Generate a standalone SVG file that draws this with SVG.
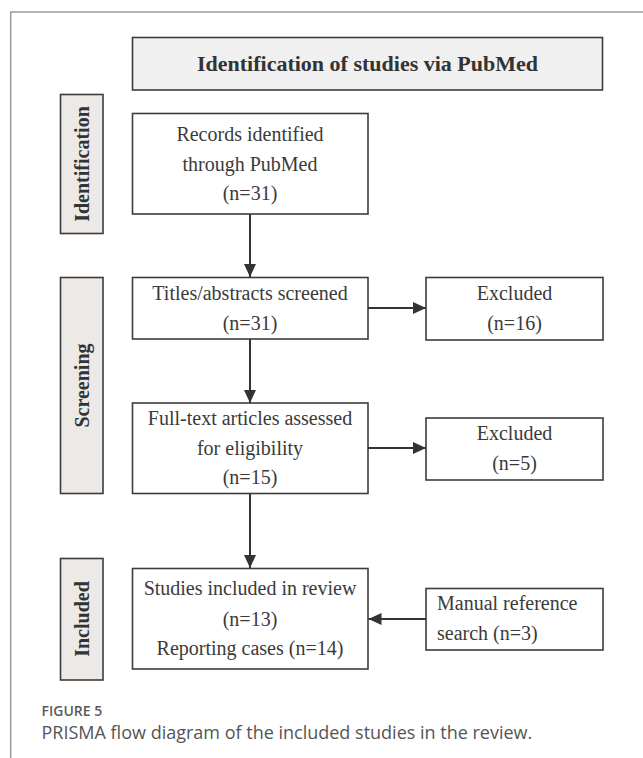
<svg xmlns="http://www.w3.org/2000/svg" width="643" height="758" viewBox="0 0 643 758">
<defs>
<style>
.box{fill:#ffffff;stroke:#3c3c3c;stroke-width:1.6}
.side{fill:#ece9e7;stroke:#3c3c3c;stroke-width:1.6}
.title{fill:#f0f0f0;stroke:#3c3c3c;stroke-width:1.6}
.t{font-family:"Liberation Serif","Times New Roman",serif;font-size:20px;fill:#3a3a3a;text-anchor:middle}
.tl{font-family:"Liberation Serif","Times New Roman",serif;font-size:20px;fill:#3a3a3a}
.tb{font-family:"Liberation Serif","Times New Roman",serif;font-size:20px;font-weight:bold;fill:#333;text-anchor:middle}
.conn{stroke:#333;stroke-width:2;fill:none;marker-end:url(#ah)}
.frame{stroke:#9a9aa2;stroke-width:1.5;fill:none}
</style>
<marker id="ah" markerUnits="userSpaceOnUse" markerWidth="14" markerHeight="12" refX="13" refY="6" orient="auto">
<path d="M0,0 L13,6 L0,12 Z" fill="#333"/>
</marker>
</defs>
<rect width="643" height="758" fill="#ffffff"/>
<path class="frame" d="M10.7,758 V12 H643"/>

<g id="title">
<rect class="title" x="132.5" y="37.5" width="470" height="52.5"/>
<text class="tb" x="367.5" y="71" style="font-size:22px">Identification of studies via PubMed</text>
</g>

<g id="side-identification">
<rect class="side" x="60.5" y="94.5" width="42.5" height="139"/>
<text class="tb" transform="translate(88.5,164) rotate(-90)">Identification</text>
</g>
<g id="side-screening">
<rect class="side" x="60.5" y="277.5" width="42.5" height="216"/>
<text class="tb" transform="translate(88.5,385.5) rotate(-90)">Screening</text>
</g>
<g id="side-included">
<rect class="side" x="60.5" y="558.5" width="42.5" height="121.5"/>
<text class="tb" transform="translate(88.5,619) rotate(-90)">Included</text>
</g>

<g id="records">
<rect class="box" x="132.5" y="113.5" width="235.5" height="100.5"/>
<text class="t" x="250" y="141">Records identified</text>
<text class="t" x="250" y="171">through PubMed</text>
<text class="t" x="250" y="200">(n=31)</text>
</g>

<g id="titles">
<rect class="box" x="132.5" y="277.5" width="235.5" height="61.5"/>
<text class="t" x="250" y="300">Titles/abstracts screened</text>
<text class="t" x="250" y="330">(n=31)</text>
</g>

<g id="excluded1">
<rect class="box" x="426" y="277.5" width="177" height="62.5"/>
<text class="t" x="514.5" y="300">Excluded</text>
<text class="t" x="514.5" y="330">(n=16)</text>
</g>

<g id="fulltext">
<rect class="box" x="132.5" y="403" width="235.5" height="90.5"/>
<text class="t" x="250" y="425">Full-text articles assessed</text>
<text class="t" x="250" y="455">for eligibility</text>
<text class="t" x="250" y="484">(n=15)</text>
</g>

<g id="excluded2">
<rect class="box" x="426" y="418" width="177" height="62"/>
<text class="t" x="514.5" y="440">Excluded</text>
<text class="t" x="514.5" y="470">(n=5)</text>
</g>

<g id="studies">
<rect class="box" x="132.5" y="568.5" width="235.5" height="100.5"/>
<text class="t" x="250" y="595">Studies included in review</text>
<text class="t" x="250" y="626">(n=13)</text>
<text class="t" x="250" y="655">Reporting cases (n=14)</text>
</g>

<g id="manual">
<rect class="box" x="426" y="588.5" width="177" height="61.5"/>
<text class="tl" x="437" y="610">Manual reference</text>
<text class="tl" x="437" y="640">search (n=3)</text>
</g>

<g id="connectors">
<line class="conn" x1="250" y1="214" x2="250" y2="277"/>
<line class="conn" x1="250" y1="339" x2="250" y2="403"/>
<line class="conn" x1="250" y1="493.5" x2="250" y2="568"/>
<line class="conn" x1="368" y1="308" x2="426" y2="308"/>
<line class="conn" x1="368" y1="448" x2="426" y2="448"/>
<line class="conn" x1="426" y1="619" x2="368.5" y2="619"/>
</g>

<g id="caption">
<text x="41.5" y="716" style="font-family:'Open Sans','Noto Sans',sans-serif;font-size:14px;font-weight:600;fill:#5a5a5a">FIGURE 5</text>
<text x="41.5" y="739" style="font-family:'Open Sans','Noto Sans',sans-serif;font-size:18px;fill:#555555">PRISMA flow diagram of the included studies in the review.</text>
</g>
</svg>
